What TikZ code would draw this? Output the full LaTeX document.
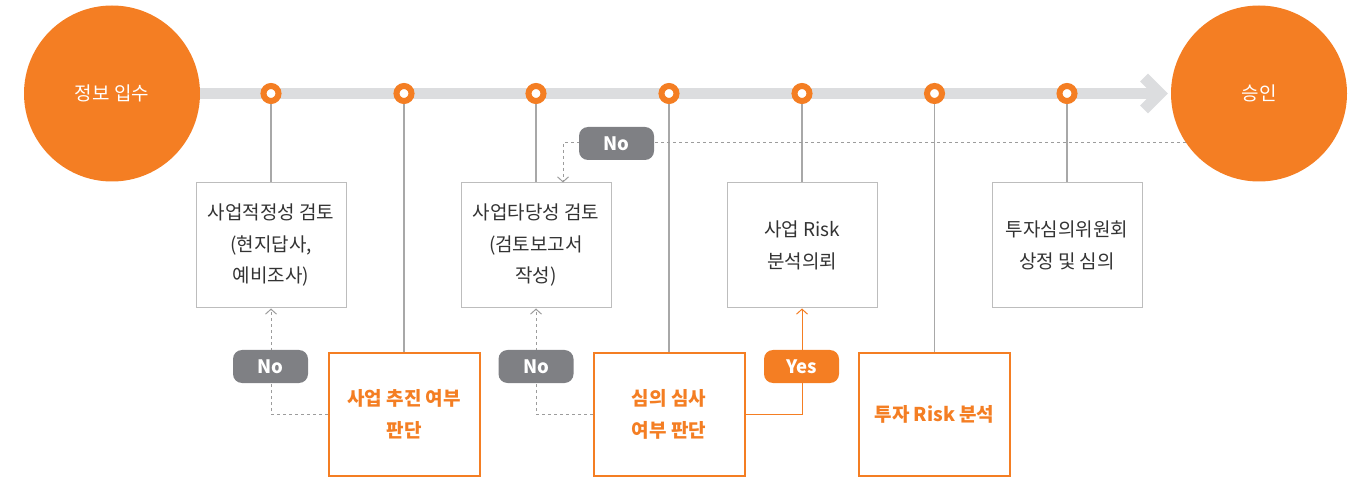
\documentclass[tikz,border=0pt]{standalone}
\usepackage{fontspec}
\setmainfont{Noto Sans CJK KR}
\usetikzlibrary{arrows.meta}
\definecolor{org}{HTML}{F47E23}
\definecolor{bargray}{HTML}{DCDDDF}
\definecolor{boxgray}{HTML}{BDBDBD}
\definecolor{linegray}{HTML}{A8A8A8}
\definecolor{dashgray}{HTML}{9C9C9C}
\definecolor{badgegray}{HTML}{7F8084}
\definecolor{txt}{HTML}{333333}
\begin{document}
\begin{tikzpicture}[x=1pt,y=-1pt,
  bigcirc/.style={circle, fill=org, minimum size=176pt, inner sep=0pt, text=white, font=\fontsize{19}{22}\selectfont},
  dot/.style={circle, draw=org, line width=6pt, fill=white, minimum size=15pt, inner sep=0pt},
  graybox/.style={draw=boxgray, line width=1pt, fill=white, minimum width=150pt, minimum height=125pt, inner sep=0pt, align=center, text=txt, font=\fontsize{19}{31.5}\selectfont},
  orgbox/.style={draw=org, line width=2pt, fill=white, minimum width=151pt, minimum height=123pt, inner sep=0pt, align=center, text=org, font=\bfseries\fontsize{19}{32}\selectfont},
  badge/.style={rounded corners=9pt, minimum width=75pt, minimum height=33pt, inner sep=0pt, text=white, font=\bfseries\fontsize{18.5}{20}\selectfont},
  vline/.style={draw=linegray, line width=1.2pt},
  dline/.style={draw=dashgray, line width=1pt, dash pattern=on 3pt off 3pt, -{Straight Barb[length=5pt,width=11pt,line width=1pt]}},
  yline/.style={draw=org, line width=1pt, -{Straight Barb[length=5pt,width=11pt,line width=1pt]}},
  bar/.style={draw=bargray, line width=11pt}
]
\useasboundingbox (0,0) rectangle (1363,478);

% big circles
\node[bigcirc] (c1) at (112,93.5) {정보 입수};
\node[bigcirc] (c2) at (1259,93.5) {승인};

% main bar with chevron
\coordinate (tip) at (1160,93.5);
\draw[bar] (c1.east) -- (tip);
\draw[bar, line join=miter, line cap=butt] (1144,77.5) -- (tip) -- (1144,109.5);

% boxes
\node[graybox] (b1) at (271,245.5) {사업적정성 검토\\(현지답사,\\예비조사)};
\node[graybox] (b2) at (536,245.5) {사업타당성 검토\\(검토보고서\\작성)};
\node[graybox] (b3) at (802,245.5) {사업 Risk\\분석의뢰};
\node[graybox] (b4) at (1067,245.5) {투자심의위원회\\상정 및 심의};
\node[orgbox] (b5) at (404,414.5) {사업 추진 여부\\판단};
\node[orgbox] (b6) at (669,414.5) {심의 심사\\여부 판단};
\node[orgbox] (b7) at (934.5,414.5) {투자 Risk 분석};

% dots
\node[dot] (d1) at (271,93.5) {};
\node[dot] (d2) at (404,93.5) {};
\node[dot] (d3) at (536,93.5) {};
\node[dot] (d4) at (669,93.5) {};
\node[dot] (d5) at (802,93.5) {};
\node[dot] (d6) at (934.5,93.5) {};
\node[dot] (d7) at (1067,93.5) {};

% vertical lines
\draw[vline] (d1) -- (b1);
\draw[vline] (d2) -- (b5);
\draw[vline] (d3) -- (b2);
\draw[vline] (d4) -- (b6);
\draw[vline] (d5) -- (b3);
\draw[vline] (d6) -- (b7);
\draw[vline] (d7) -- (b4);

% feedback connectors
\draw[dline] (b5.west) -| (b1.south);
\draw[dline] (b6.west) -| (b2.south);
\draw[yline] (b6.east) -| (b3.south);
\draw[dline] (c2.214.6) -| ([xshift=27pt]b2.north);

% badges
\node[badge, fill=badgegray] (n1) at (270.5,366.5) {No};
\node[badge, fill=badgegray] (n2) at (536,366.5) {No};
\node[badge, fill=badgegray] (n3) at (616.5,143.5) {No};
\node[badge, fill=org] (y1) at (801.5,366.5) {Yes};
\end{tikzpicture}
\end{document}
